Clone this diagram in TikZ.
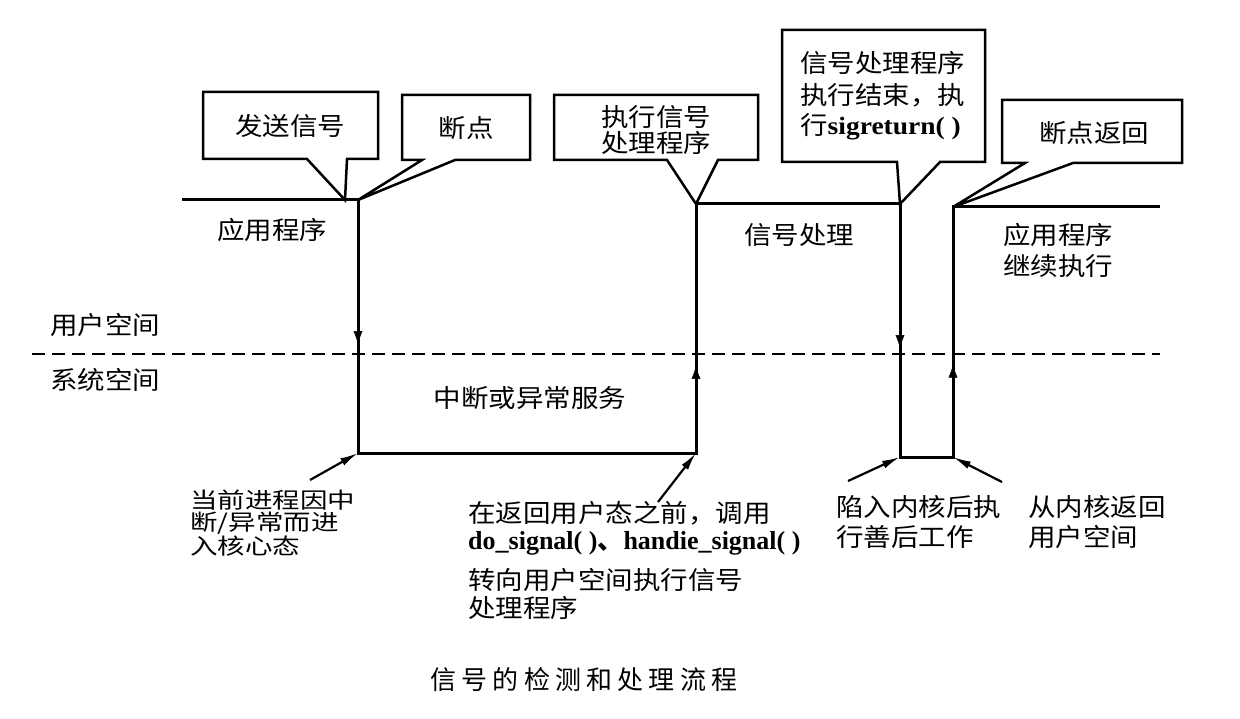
\documentclass[tikz,border=0pt]{standalone}
\usepackage{fontspec}
\newfontfamily\cjk{Noto Sans CJK SC}
\newfontfamily\cjkcap{Noto Sans CJK SC}[LetterSpace=20]
\newfontfamily\tms{Liberation Serif}
\usetikzlibrary{arrows.meta,decorations.markings}
\begin{document}
\begin{tikzpicture}[x=1pt,y=-1pt,
  mainline/.style={line width=3pt, line join=miter},
  bubble/.style={line width=2.5pt, line join=miter},
  txt/.style={font=\cjk\fontsize{25}{29}\selectfont, inner sep=0pt, xscale=1.1},
  tight/.style={font=\cjk\fontsize{22}{24}\selectfont, inner sep=0pt, xscale=1.25},
  lat/.style={font=\tms\bfseries\fontsize{26}{29}\selectfont, inner sep=0pt},
  pointer/.style={line width=2.2pt, -{Latex[length=18pt,width=8pt]}},
  midarrow/.style={decoration={markings, mark=at position #1 with {\arrow{Latex[length=13pt,width=9pt]}}}, decorate}
]
\useasboundingbox (0,0) rectangle (1240,719);

% main path coordinates
\coordinate (A0) at (182,200);
\coordinate (P1) at (358,200);
\coordinate (P2) at (358,453);
\coordinate (P3) at (696,453);
\coordinate (P4) at (696,204);
\coordinate (P5) at (900,204);
\coordinate (P6) at (900,457);
\coordinate (P7) at (953,457);
\coordinate (P8) at (953,207);
\coordinate (P9) at (1160,207);

% dashed boundary
\coordinate (DL) at (32,354);
\coordinate (DR) at (1160,354);
\draw[line width=2pt, dash pattern=on 13pt off 7pt] (DL) -- (DR);

\draw[mainline] (A0) -- (P1) -- (P2) -- (P3) -- (P4) -- (P5) -- (P6) -- (P7) -- (P8) -- (P9);
\draw[midarrow=0.57] (P1) -- (P2);
\draw[midarrow=0.35] (P3) -- (P4);
\draw[midarrow=0.57] (P5) -- (P6);
\draw[midarrow=0.37] (P7) -- (P8);

% callout bubbles
\draw[bubble] (203,92) -- (378,92) -- (378,159) -- (347,159) -- (345,200) -- (307,159) -- (203,159) -- cycle;
\node[txt] (t1) at (290,126) {发送信号};

\draw[bubble] (402,95) -- (530,95) -- (530,160) -- (455,160) -- (P1) -- (422,160) -- (402,160) -- cycle;
\node[txt] (t2) at (466,128) {断点};

\draw[bubble] (554,95) -- (758,95) -- (758,160) -- (718,160) -- (P4) -- (667,160) -- (554,160) -- cycle;
\node[txt] (t3a) at (656,117) {执行信号};
\node[txt] (t3b) at (656,143) {处理程序};

\draw[bubble] (782,30) -- (985,30) -- (985,162) -- (940,162) -- (P5) -- (897,162) -- (782,162) -- cycle;
\node[txt, anchor=west] (t4a) at (800,63) {信号处理程序};
\node[txt, anchor=west] (t4b) at (800,95) {执行结束，执};
\node[txt, anchor=west] (t4c) at (800,127) {行{\tms\bfseries sigreturn( )}};

\draw[bubble] (1002,100) -- (1182,100) -- (1182,163) -- (1073,163) -- (P8) -- (1025,163) -- (1002,163) -- cycle;
\node[txt] (t5) at (1094,133) {断点返回};

% region labels
\node[txt] (app1) at (272,230) {应用程序};
\node[txt, anchor=west] (us) at (50,325) {用户空间};
\node[txt, anchor=west] (ks) at (50,380) {系统空间};
\node[txt] (irq) at (530,398) {中断或异常服务};
\node[txt] (sig) at (799,235) {信号处理};
\node[txt] (app2a) at (1058,235) {应用程序};
\node[txt] (app2b) at (1058,266) {继续执行};

% bottom annotations
\node[tight, anchor=west] (a1) at (190,500) {当前进程因中};
\node[tight, anchor=west] (a2) at (190,523) {断/异常而进};
\node[tight, anchor=west] (a3) at (190,546) {入核心态};
\coordinate (aS) at (310,480);
\draw[pointer] (aS) -- (P2);

\node[txt, anchor=west] (b1) at (468,513) {在返回用户态之前，调用};
\node[lat, anchor=west] (b2) at (468,543) {do\_signal( ){\cjk 、}handie\_signal( )};
\node[txt, anchor=west] (b3) at (468,580) {转向用户空间执行信号};
\node[txt, anchor=west] (b4) at (468,608) {处理程序};
\coordinate (bS) at (658,502);
\draw[pointer] (bS) -- (P3);

\node[txt, anchor=west] (c1) at (836,507) {陷入内核后执};
\node[txt, anchor=west] (c2) at (836,537) {行善后工作};
\coordinate (cS) at (848,481);
\draw[pointer] (cS) -- (P6);

\node[txt, anchor=west] (d1) at (1028,507) {从内核返回};
\node[txt, anchor=west] (d2) at (1028,537) {用户空间};
\coordinate (dS) at (1002,482);
\draw[pointer] (dS) -- (P7);

% caption
\node[font=\cjkcap\fontsize{26}{30}\selectfont, inner sep=0pt] (cap) at (584,680) {信号的检测和处理流程};
\end{tikzpicture}
\end{document}
